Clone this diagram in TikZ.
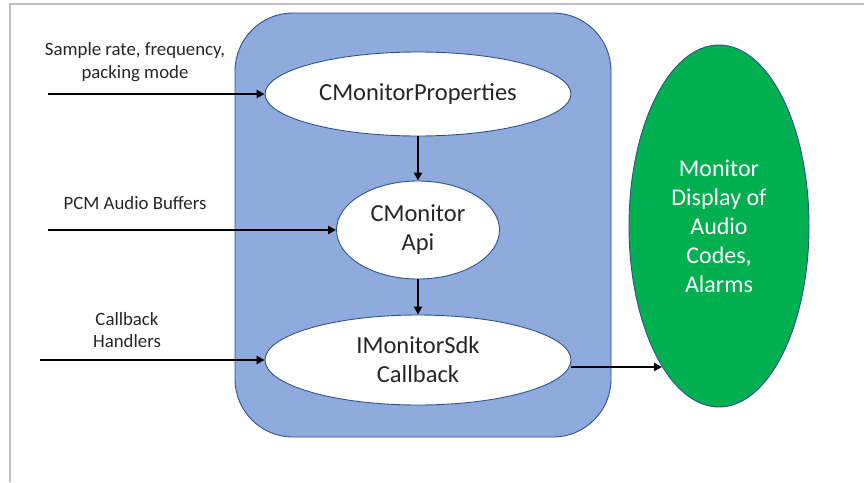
\documentclass[tikz,border=0pt]{standalone}
\usepackage{fontspec}
\setmainfont{Carlito}
\usetikzlibrary{shapes.geometric,arrows.meta}
\definecolor{boxblue}{HTML}{8FAADC}
\definecolor{edgeblue}{HTML}{2F528F}
\definecolor{dispgreen}{HTML}{00B050}
\definecolor{framegray}{HTML}{C0C0C0}
\definecolor{txt}{HTML}{262626}

\begin{document}
\begin{tikzpicture}[x=1pt,y=-1pt,
  oval/.style={ellipse, draw=edgeblue, line width=0.9pt, inner sep=0pt, align=center,
    text=txt, font=\fontsize{24.5}{29}\selectfont},
  arr/.style={-{Triangle[length=8pt,width=8pt]}, line width=2.6pt, black},
  lbl/.style={align=center, text=txt, font=\fontsize{18.8}{22.5}\selectfont, inner sep=0pt}
]
\useasboundingbox (0,0) rectangle (864,482);

% page frame (top and left edges)
\draw[framegray, line width=1.5pt] (10,482) -- (10,4) -- (864,4);

% SDK container
\draw[fill=boxblue, draw=edgeblue, line width=0.9pt, rounded corners=58pt]
  (235,13) rectangle (611,437);

% components
\node[oval, fill=white, minimum width=306pt, minimum height=84pt] (props) at (418,94) {CMonitorProperties};
\node[oval, fill=white, minimum width=163pt, minimum height=98pt] (api) at (418,230) {CMonitor\\Api};
\node[oval, fill=white, minimum width=306pt, minimum height=90pt] (cb) at (418,360) {IMonitorSdk\\Callback};
\node[oval, fill=dispgreen, text=white, font=\fontsize{24}{29}\selectfont,
  minimum width=180pt, minimum height=362pt] (disp) at (719,226)
  {Monitor\\Display of\\Audio\\Codes,\\Alarms};

% input labels
\node[lbl] (srate) at (135,62) {Sample rate, frequency,\\packing mode};
\node[lbl] (pcm) at (135,203) {PCM Audio Buffers};
\node[lbl] (handlers) at (127,330) {Callback\\Handlers};

% input start points
\coordinate (in1) at (48,94);
\coordinate (in2) at (48,230);
\coordinate (in3) at (40,360);

% connectors
\draw[arr] (in1) -- (props.west);
\draw[arr] (in2) -- (api.west);
\draw[arr] (in3) -- (cb.west);
\draw[arr] (props.south) -- (api.north);
\draw[arr] (api.south) -- (cb.north);
\draw[arr] (cb.east |- disp.248.5) -- (disp.248.5);
\end{tikzpicture}
\end{document}
